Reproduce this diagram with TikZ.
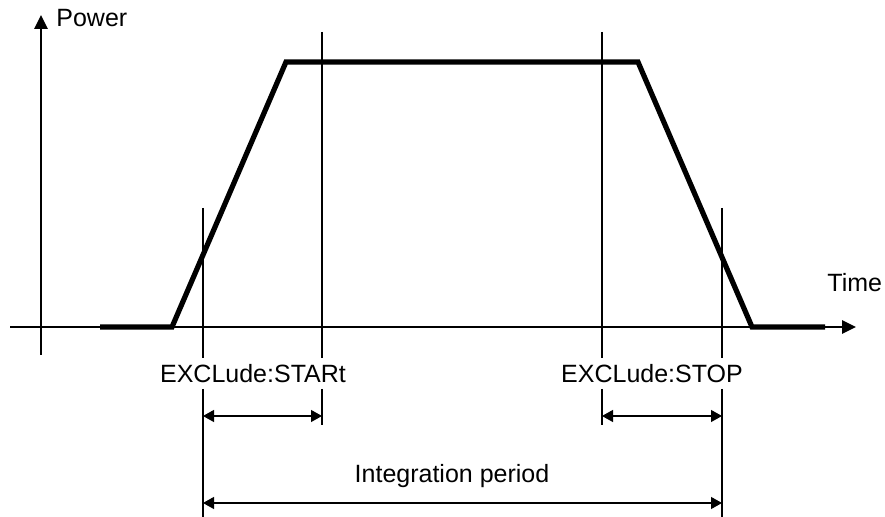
\documentclass[tikz,border=0pt]{standalone}
\usepackage{fontspec}
\setmainfont{Liberation Sans}
\usetikzlibrary{arrows.meta}

\begin{document}
\begin{tikzpicture}[
  x=0.5pt, y=-0.5pt,
  font=\fontsize{12.5}{15}\selectfont,
  % axes with filled heads
  axis/.style={line width=1.3pt, -{Triangle[length=7pt, width=6.5pt]}},
  % power curve
  pulse/.style={line width=2.6pt, line join=miter},
  % marker lines
  mark line/.style={line width=1.3pt},
  % dimension arrows
  dim/.style={line width=0.6pt, {Triangle[length=5.5pt, width=6pt]}-{Triangle[length=5.5pt, width=6pt]}},
  lbl/.style={inner sep=0pt},
]
\useasboundingbox (0,0) rectangle (885,517);

% ---------- Axes ----------
\coordinate (O) at (41,355);
\coordinate (Ytip) at (41,15);
\coordinate (X0) at (10,327);
\coordinate (Xtip) at (856,327);
\draw[axis] (O) -- (Ytip);
\draw[axis] (X0) -- (Xtip);
\node[lbl, anchor=west] (POW) at (56,18) {Power};
\node[lbl, anchor=west] (TIME) at (827,283) {Time};

% ---------- Power curve ----------
\draw[pulse] (100,327) -- (172,327) -- (286,62) -- (638,62) -- (752,327) -- (825,327);

% ---------- Labels ----------
\node[lbl] (XSTART) at (253,374) {EXCLude:STARt};
\node[lbl] (XSTOP) at (652,374) {EXCLude:STOP};
\node[lbl] (INTEG) at (452,476) {Integration period};

% ---------- Marker lines (broken by the labels) ----------
\foreach \n/\xx/\top/\bot in {a/203/208/517, b/322/32/425, c/602/32/425, d/722/208/517} {
  \coordinate (\n top) at (\xx,\top);
  \coordinate (\n up) at (\xx,358);
  \coordinate (\n dn) at (\xx,389);
  \coordinate (\n bot) at (\xx,\bot);
  \draw[mark line] (\n top) -- (\n up);
  \draw[mark line] (\n dn) -- (\n bot);
}

% ---------- Dimension arrows ----------
\coordinate (a1) at (203,416);
\coordinate (b1) at (322,416);
\coordinate (c1) at (602,416);
\coordinate (d1) at (722,416);
\coordinate (a2) at (203,503);
\coordinate (d2) at (722,503);
\draw[dim] (a1) -- (b1);
\draw[dim] (c1) -- (d1);
\draw[dim] (a2) -- (d2);

\end{tikzpicture}
\end{document}
